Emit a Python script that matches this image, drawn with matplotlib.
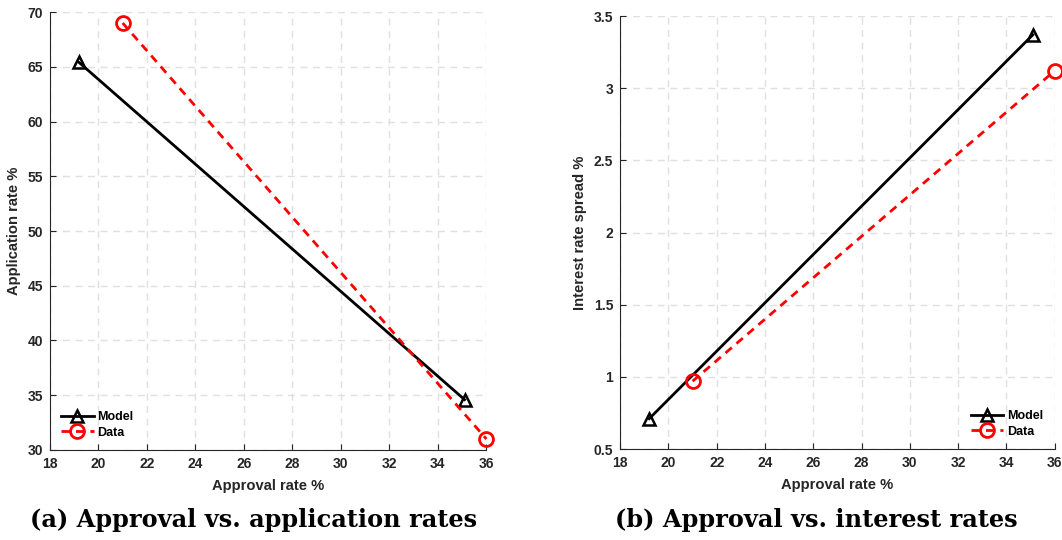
import matplotlib.pyplot as plt

# approval rate (x) for the two series
model_x = [19.2, 35.1]
data_x = [21.0, 36.0]

# panel a: application rate
model_app = [65.4, 34.6]
data_app = [69.0, 31.0]

# panel b: interest rate spread
model_spread = [0.71, 3.37]
data_spread = [0.97, 3.12]

xticks = [18, 20, 22, 24, 26, 28, 30, 32, 34, 36]
yticks_a = [30, 35, 40, 45, 50, 55, 60, 65, 70]
yticks_b = [0.5, 1, 1.5, 2, 2.5, 3, 3.5]

plt.rcParams['font.family'] = ['Liberation Sans', 'DejaVu Sans']
plt.rcParams['font.weight'] = 'bold'

fig = plt.figure(figsize=(10.62, 5.4), dpi=100)
ax1 = fig.add_axes([0.047, 0.1667, 0.411, 0.811])
ax2 = fig.add_axes([0.584, 0.1685, 0.409, 0.8018])

grey = '#262626'


def style(ax, yticks, ylabel, yfmt):
    ax.set_xlim(18, 36)
    ax.set_xticks(xticks)
    ax.set_ylim(yticks[0], yticks[-1])
    ax.set_yticks(yticks)
    ax.set_yticklabels([yfmt(v) for v in yticks])
    ax.grid(True, color='#e0e0e0', linestyle=(0, (5, 4)), linewidth=1.0)
    ax.set_axisbelow(True)
    for s in ['top', 'right']:
        ax.spines[s].set_visible(False)
    for s in ['left', 'bottom']:
        ax.spines[s].set_color(grey)
        ax.spines[s].set_linewidth(0.8)
    ax.tick_params(direction='in', colors=grey, labelsize=10, length=4, width=0.8, pad=5)
    for lab in ax.get_xticklabels() + ax.get_yticklabels():
        lab.set_fontweight('bold')
    ax.set_xlabel('Approval rate %', fontsize=10.6, fontweight='bold', color=grey, labelpad=6)
    ax.set_ylabel(ylabel, fontsize=10.6, fontweight='bold', color=grey, labelpad=5)


def draw(ax, ym, yd, loc):
    ax.plot(model_x, ym, color='black', linewidth=2, marker='^', markersize=9,
            markerfacecolor='none', markeredgewidth=1.8, label='Model', clip_on=False)
    ax.plot(data_x, yd, color='red', linewidth=2, linestyle=(0, (3, 2.2)), marker='o', markersize=10,
            markerfacecolor='none', markeredgewidth=2, label='Data', clip_on=False)
    leg = ax.legend(loc=loc, frameon=False, prop={'weight': 'bold', 'size': 9},
                    handlelength=2.6, handletextpad=0.3, labelspacing=0.3)
    return leg


draw(ax1, model_app, data_app, 'lower left')
draw(ax2, model_spread, data_spread, 'lower right')
style(ax1, yticks_a, 'Application rate %', lambda v: f'{v:g}')
style(ax2, yticks_b, 'Interest rate spread %', lambda v: f'{v:g}')

fig.text(0.239, 0.037, '(a) Approval vs. application rates', ha='center', va='center',
         family=['DejaVu Serif'], fontweight='bold', fontsize=17.3)
fig.text(0.769, 0.037, '(b) Approval vs. interest rates', ha='center', va='center',
         family=['DejaVu Serif'], fontweight='bold', fontsize=17.3)

fig.savefig('out.png', dpi=100)
